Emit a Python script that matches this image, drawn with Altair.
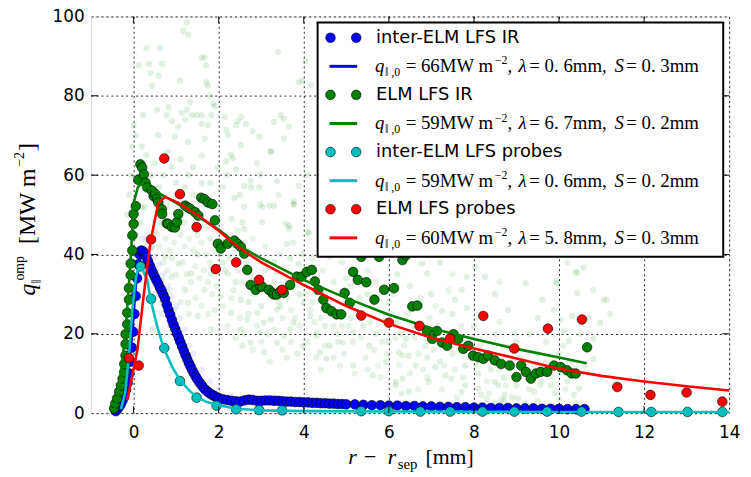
import altair as alt
import pandas as pd

# ---------------- data ----------------
x_ticks = [0, 2, 4, 6, 8, 10, 12, 14]
y_ticks = [0, 20, 40, 60, 80, 100]

series_names = ["inter-ELM LFS IR", "ELM LFS IR", "inter-ELM LFS probes", "ELM LFS probes"]
series_colors = ["#0000ff", "#008000", "#00bfbf", "#ff0000"]
fit_q0 = ["66", "59", "59", "60"]
fit_lambda = ["0.6", "6.7", "0.6", "5.8"]
fit_S = ["0.3", "0.2", "0.2", "0.3"]

inter_ir_points = [
    (-0.42, 0.5), (-0.38, 1.0), (-0.34, 1.6), (-0.30, 2.3), (-0.26, 3.2), (-0.22, 4.3), (-0.18, 5.8),
    (-0.14, 7.6), (-0.10, 10.0), (-0.07, 13.0), (-0.04, 16.5), (-0.01, 20.5), (0.02, 25.0), (0.05, 29.5),
    (0.08, 34.0), (0.11, 37.5), (0.14, 40.0), (0.18, 41.0), (0.22, 40.8), (0.26, 40.2), (0.30, 39.3),
    (0.34, 38.3), (0.38, 37.2), (0.42, 36.2), (0.46, 35.2), (0.50, 34.3), (0.54, 33.4), (0.58, 32.6),
    (0.62, 31.6), (0.66, 30.8), (0.70, 29.8), (0.74, 28.8), (0.78, 27.3), (0.82, 26.0), (0.86, 24.8),
    (0.90, 23.5), (0.94, 22.3), (0.98, 21.2), (1.02, 20.1), (1.06, 19.0), (1.10, 17.9), (1.14, 16.8),
    (1.18, 15.7), (1.22, 14.6), (1.26, 13.6), (1.30, 12.6), (1.34, 11.7), (1.38, 10.8), (1.42, 10.0),
    (1.46, 9.2), (1.50, 8.5), (1.55, 7.7), (1.60, 7.0), (1.65, 6.3), (1.70, 5.8), (1.75, 5.3), (1.80, 4.9),
    (1.85, 4.6), (1.90, 4.3), (1.95, 4.0), (2.00, 3.8), (2.10, 3.5), (2.20, 3.3), (2.30, 3.1), (2.40, 3.0),
    (2.50, 2.9), (2.60, 3.2), (2.70, 3.4), (2.80, 3.3), (2.90, 3.1), (3.00, 3.1), (3.10, 3.2), (3.20, 3.2),
    (3.30, 3.1), (3.40, 3.1), (3.50, 3.0), (3.60, 2.9), (3.70, 2.9), (3.80, 2.8), (3.90, 2.8), (4.00, 2.7),
    (4.10, 2.7), (4.20, 2.6), (4.30, 2.6), (4.40, 2.5), (4.50, 2.5), (4.60, 2.4), (4.70, 2.4), (4.80, 2.3),
    (4.90, 2.3), (5.00, 2.2), (5.20, 2.2), (5.40, 2.1), (5.60, 2.0), (5.80, 2.0), (6.00, 1.9), (6.20, 1.9),
    (6.40, 1.8), (6.60, 1.8), (6.80, 1.7), (7.00, 1.7), (7.20, 1.6), (7.40, 1.6), (7.60, 1.5), (7.80, 1.5),
    (8.00, 1.4), (8.20, 1.4), (8.40, 1.3), (8.60, 1.3), (8.80, 1.3), (9.00, 1.2), (9.20, 1.2), (9.40, 1.2),
    (9.60, 1.1), (9.80, 1.1), (10.00, 1.1), (10.20, 1.0), (10.40, 1.0), (10.60, 1.0),
]
inter_ir_fit = [
    (-0.35, 1.0), (-0.20, 5.0), (-0.05, 18.0), (0.05, 32.0), (0.17, 41.0), (0.40, 36.5), (0.70, 29.5),
    (1.00, 21.0), (1.30, 12.5), (1.60, 6.8), (2.00, 3.5), (3.00, 2.5), (5.00, 2.1), (7.00, 1.6),
    (9.00, 1.2), (10.60, 1.0),
]
elm_ir_points = [
    (-0.46, 1.2), (-0.43, 2.4), (-0.39, 3.7), (-0.34, 5.4), (-0.30, 7.0), (-0.26, 8.7), (-0.22, 10.4),
    (-0.22, 12.4), (-0.19, 14.5), (-0.19, 17.4), (-0.19, 19.9), (-0.15, 22.4), (-0.15, 25.3), (-0.11, 28.6),
    (-0.11, 31.5), (-0.07, 34.8), (-0.07, 37.7), (-0.03, 41.0), (-0.03, 44.8), (0.00, 47.7), (0.00, 50.2),
    (0.05, 52.2), (0.11, 58.8), (0.16, 62.7), (0.20, 61.9), (0.24, 60.2), (0.28, 58.1), (0.32, 56.9),
    (0.43, 56.1), (0.47, 54.7), (0.51, 55.2), (0.55, 54.0), (0.58, 53.1), (0.66, 51.4), (0.67, 50.2),
    (0.78, 47.8), (0.81, 47.7), (0.90, 46.9), (0.97, 46.8), (1.02, 48.2), (1.05, 50.2), (1.21, 52.3),
    (1.28, 51.8), (1.33, 51.5), (1.44, 50.7), (1.52, 49.8), (1.59, 54.3), (1.67, 53.9), (1.75, 53.1),
    (1.85, 52.7), (1.91, 48.6), (1.98, 42.7), (2.05, 41.5), (2.21, 42.7), (2.37, 43.5), (2.44, 42.7),
    (2.52, 41.9), (2.60, 40.2), (2.67, 36.1), (2.75, 32.3), (2.87, 31.1), (2.98, 31.9), (3.02, 31.9),
    (3.18, 31.1), (3.26, 30.3), (3.30, 29.9), (3.37, 29.9), (3.45, 30.7), (3.53, 30.3), (3.68, 32.3),
    (3.84, 34.4), (3.95, 34.4), (4.07, 35.6), (4.19, 36.1), (4.26, 33.2), (4.34, 31.1), (4.46, 28.6),
    (4.53, 26.5), (4.65, 25.7), (4.77, 24.9), (4.88, 24.9), (4.96, 30.3), (5.08, 27.8), (5.16, 35.6),
    (5.27, 33.6), (5.35, 39.4), (5.47, 33.0), (5.66, 28.6), (5.77, 39.4), (5.89, 31.1), (6.12, 31.5),
    (6.32, 38.6), (6.40, 39.8), (6.55, 26.9), (6.67, 27.1), (6.90, 20.7), (7.02, 18.7), (7.13, 20.7),
    (7.25, 17.8), (7.37, 17.0), (7.52, 19.9), (7.63, 18.7), (7.75, 16.2), (7.87, 17.0), (7.98, 14.5),
    (8.10, 14.1), (8.22, 13.7), (8.33, 14.5), (8.49, 13.3), (8.64, 12.4), (8.84, 12.0), (9.00, 9.1),
    (9.11, 12.0), (9.22, 10.4), (9.34, 8.7), (9.46, 10.0), (9.57, 10.4), (9.72, 10.4), (9.88, 12.0),
    (10.04, 11.6), (10.19, 10.8), (10.30, 10.0), (10.39, 10.0), (10.66, 16.6),
]
elm_ir_fit = [
    (-0.47, 0.5), (-0.37, 3.7), (-0.19, 20.4), (-0.07, 38.6), (0.00, 53.0), (0.10, 57.0), (0.16, 57.7),
    (0.50, 56.0), (1.00, 53.0), (1.50, 49.6), (2.00, 46.3), (2.44, 42.5), (3.00, 39.0), (4.00, 33.6),
    (5.00, 29.0), (6.00, 24.8), (7.00, 21.4), (8.00, 18.7), (9.00, 16.2), (10.00, 14.0), (10.65, 12.6),
]
inter_probe_points = [
    (0.16, 37.0), (0.41, 28.8), (0.72, 16.4), (1.09, 8.1), (1.48, 3.9), (1.95, 1.9), (2.41, 1.0),
    (2.95, 0.8), (3.49, 0.7), (5.35, 0.5), (6.00, 0.5), (6.74, 0.4), (7.44, 0.4), (8.20, 0.4),
    (8.95, 0.4), (9.72, 0.4), (10.53, 0.4), (11.40, 0.3), (12.17, 0.3), (13.02, 0.3), (13.84, 0.3),
]
inter_probe_fit = [
    (-0.30, 1.0), (-0.20, 5.0), (-0.11, 14.5), (-0.03, 26.0), (0.05, 34.0), (0.12, 37.0), (0.16, 37.3),
    (0.32, 33.6), (0.40, 28.6), (0.55, 22.0), (0.70, 16.6), (0.90, 11.8), (1.09, 8.3), (1.30, 5.8),
    (1.48, 4.1), (1.70, 2.9), (1.95, 2.1), (2.40, 1.1), (3.00, 0.7), (4.00, 0.5), (6.00, 0.4),
    (8.00, 0.35), (10.00, 0.3), (12.00, 0.3), (14.00, 0.3),
]
elm_probe_points = [
    (-0.11, 13.9), (0.12, 12.0), (0.41, 43.8), (0.72, 64.2), (1.09, 55.2), (1.48, 46.9), (1.93, 36.3),
    (2.41, 38.0), (2.95, 33.6), (3.49, 31.1), (5.35, 24.6), (6.00, 22.8), (6.72, 22.0), (7.44, 18.8),
    (8.22, 24.5), (8.95, 16.3), (9.74, 21.3), (10.54, 23.6), (11.37, 6.6), (12.15, 4.6), (13.00, 5.2),
    (13.84, 2.9),
]
elm_probe_fit = [
    (-0.15, 3.3), (0.09, 16.0), (0.24, 30.0), (0.40, 43.5), (0.58, 53.0), (0.74, 54.5), (1.05, 53.0),
    (1.50, 50.0), (2.00, 46.0), (2.44, 42.0), (3.00, 38.0), (4.00, 32.3), (5.00, 27.0), (6.00, 22.5),
    (7.00, 19.0), (8.00, 16.3), (9.00, 13.8), (10.00, 11.2), (11.00, 9.4), (12.00, 8.0), (13.00, 6.8),
    (14.00, 5.7),
]
elm_ir_cloud = [
    (1.25, 98.5), (1.17, 96.3), (1.29, 95.4), (0.30, 92.0), (0.63, 92.0), (1.60, 89.6), (1.67, 89.6),
    (1.70, 87.7), (0.12, 87.7), (0.36, 88.1), (0.67, 88.1), (0.40, 85.7), (0.59, 85.1), (1.09, 83.8),
    (1.71, 83.4), (1.75, 82.6), (0.43, 82.5), (1.79, 80.1), (1.87, 78.0), (1.91, 77.4), (1.33, 78.4),
    (0.82, 77.2), (0.55, 76.5), (0.22, 75.1), (0.78, 75.1), (1.13, 75.7), (1.25, 76.5), (1.37, 75.1),
    (1.48, 75.1), (1.60, 75.1), (1.83, 75.1), (2.14, 74.7), (0.90, 73.6), (1.21, 74.0), (1.05, 72.2),
    (1.60, 73.0), (1.75, 72.6), (0.00, 72.6), (2.53, 74.7), (2.45, 73.6), (2.64, 72.9), (2.41, 72.6),
    (2.80, 71.1), (2.18, 71.4), (2.22, 70.1), (3.46, 75.1), (3.53, 74.2), (3.65, 72.2), (3.30, 73.4),
    (3.88, 83.4), (3.96, 83.8), (4.16, 82.7), (3.40, 91.1), (4.04, 88.8), (3.23, 66.0), (3.19, 52.3),
    (3.30, 52.3), (3.88, 57.3), (3.77, 52.7), (3.65, 47.3), (2.95, 56.9), (2.76, 56.9), (2.33, 64.3),
    (2.18, 63.5), (2.41, 61.4), (3.03, 51.9), (3.57, 47.8), (3.65, 46.5), (-0.04, 67.2), (0.19, 67.2),
    (0.58, 70.1), (0.97, 69.7), (1.28, 68.4), (1.67, 69.2), (2.29, 65.1), (2.52, 67.6), (2.95, 69.7),
    (3.22, 65.9), (3.53, 69.2), (4.07, 60.1), (2.98, 60.1), (3.37, 58.5), (1.98, 61.8), (2.37, 54.3),
    (2.75, 58.5), (3.76, 53.5), (0.30, 65.0), (0.50, 63.0), (0.80, 66.0), (1.10, 64.0), (1.40, 62.0),
    (1.60, 65.0), (0.70, 60.0), (1.00, 58.0), (1.30, 60.0), (1.80, 58.0), (2.10, 57.0), (2.50, 55.0),
    (0.90, 62.0), (1.20, 57.0), (0.40, 60.0), (2.00, 52.0), (2.30, 49.0), (2.60, 52.0), (1.60, 58.0),
    (0.20, 58.0), (0.60, 57.0), (2.60, 57.2), (3.02, 48.1), (2.56, 48.1), (2.60, 46.4), (3.76, 52.6),
    (4.11, 45.4), (3.60, 42.7), (3.88, 37.7), (2.91, 25.3), (3.22, 23.6), (3.45, 26.9), (2.98, 20.3),
    (3.53, 19.5), (3.99, 17.0), (4.38, 15.3), (4.53, 13.7), (4.30, 19.5), (3.76, 22.8), (4.92, 17.8),
    (5.16, 20.3), (5.54, 17.0), (5.93, 12.9), (6.32, 8.7), (6.24, 15.3), (6.16, 22.8), (2.67, 23.6),
    (2.56, 17.0), (2.52, 28.6), (3.37, 35.6), (3.68, 39.0), (4.61, 39.4), (4.77, 46.0), (4.84, 50.2),
    (2.98, 52.6), (6.78, 37.7), (6.90, 35.2), (7.25, 25.7), (7.56, 28.6), (7.71, 31.1), (7.83, 26.5),
    (8.26, 34.4), (9.22, 32.8), (9.92, 33.2), (9.88, 26.1), (6.32, 14.5), (6.63, 12.0), (6.94, 7.9),
    (7.33, 9.5), (7.71, 5.4), (8.10, 6.2), (8.49, 7.9), (8.72, 4.6), (9.03, 3.7), (9.42, 5.4),
    (9.81, 7.0), (6.16, 7.9), (6.40, 18.7), (6.86, 17.0), (6.47, 5.4), (10.43, 35.4), (10.58, 36.7),
    (11.12, 28.6), (10.31, 24.5), (10.70, 24.1), (10.97, 22.8), (10.81, 18.7), (10.12, 20.7),
    (10.23, 18.2), (10.81, 13.7), (10.47, 6.2), (10.35, 4.6), (10.04, 23.6), (9.96, 32.8), (4.11, 45.6),
    (3.99, 27.8), (4.30, 20.3), (4.61, 17.0), (5.16, 12.0), (5.62, 9.5), (6.16, 7.0), (6.47, 14.5),
    (7.09, 11.6), (7.47, 8.7), (7.79, 7.0), (8.18, 4.6), (8.57, 7.0), (7.83, 34.4), (8.02, 36.9),
    (9.61, 28.6), (10.43, 30.3), (11.05, 28.6), (10.39, 35.6), (8.95, 41.9), (0.27, 51.8), (0.50, 46.0),
    (0.43, 41.9), (0.74, 39.4), (1.05, 37.7), (1.36, 35.2), (0.89, 34.4), (0.66, 33.6), (1.67, 31.1),
    (1.28, 27.8), (1.51, 24.5), (1.82, 21.1), (2.05, 29.4), (2.29, 25.3), (2.52, 21.1), (2.75, 17.8),
    (3.06, 15.3), (3.37, 17.8), (3.68, 21.1), (3.06, 22.8), (3.37, 26.1), (1.20, 31.1), (1.82, 35.2),
    (2.21, 35.2), (4.15, 24.5), (2.83, 33.6), (3.37, 31.1), (0.66, 27.8), (0.43, 21.1), (0.89, 24.5),
    (1.50, 40.0), (1.80, 44.0), (2.10, 38.0), (2.40, 33.0), (2.70, 28.0), (3.00, 27.0), (3.30, 38.0),
    (3.60, 34.0), (3.90, 30.0), (4.20, 28.0), (4.50, 22.0), (4.80, 20.0), (5.10, 24.0), (5.40, 22.0),
    (5.70, 20.0), (6.00, 18.0), (6.30, 20.0), (6.60, 22.0), (6.90, 14.0), (7.20, 13.0), (7.50, 15.0),
    (7.80, 12.0), (8.10, 10.0), (8.40, 11.0), (8.70, 9.0), (9.00, 7.0), (9.30, 6.0), (9.60, 8.0),
    (9.90, 5.0), (10.20, 8.0), (10.50, 10.0), (5.00, 34.0), (5.50, 30.0), (6.00, 28.0), (6.50, 32.0),
    (7.00, 30.0), (7.50, 25.0), (8.00, 22.0), (8.50, 20.0), (9.00, 18.0), (9.50, 15.0), (10.00, 15.0),
    (4.60, 42.0), (5.20, 44.0), (5.80, 42.0), (6.20, 35.0), (7.20, 38.0), (8.50, 30.0), (9.50, 24.0),
    (8.80, 26.0), (8.40, 1.5), (8.50, 2.5), (8.60, 1.0), (8.70, 3.0), (8.80, 2.0), (9.00, 1.5),
    (9.20, 2.5), (9.40, 1.0), (8.30, 3.5), (8.90, 4.0), (0.05, 45.0), (0.10, 40.0), (0.15, 48.0),
    (0.20, 52.0), (-0.10, 55.0), (-0.05, 60.0), (0.10, 63.0), (0.05, 70.0), (-0.15, 50.0),
]
elm_ir_cloud_dense = [
    (0.55, 45), (0.60, 42), (0.65, 48), (0.75, 44), (0.85, 41), (0.95, 43), (0.70, 38), (0.80, 36),
    (0.90, 39), (1.00, 35), (0.60, 30), (0.75, 29), (0.85, 31), (0.95, 26), (1.10, 45), (1.20, 42),
    (1.30, 44), (1.40, 41), (1.50, 45), (1.60, 43), (1.70, 40), (1.80, 38), (1.90, 41), (1.15, 38),
    (1.25, 35), (1.35, 33), (1.45, 37), (1.55, 34), (1.65, 36), (1.75, 33), (1.85, 30), (1.95, 32),
    (1.10, 28), (1.30, 25), (1.45, 29), (1.60, 27), (1.75, 25), (1.90, 26), (1.20, 48), (1.45, 47),
    (1.70, 47), (1.95, 46), (2.05, 40), (2.15, 36), (2.25, 39), (2.35, 31), (2.45, 36), (2.55, 33),
    (2.65, 38), (2.75, 35), (2.85, 30), (2.95, 33), (2.10, 27), (2.30, 29), (2.50, 24), (2.70, 25),
    (2.90, 22), (2.20, 22), (2.40, 19), (2.60, 20), (2.80, 16), (3.00, 18), (2.15, 45), (2.45, 46),
    (2.80, 44), (2.60, 43), (3.10, 36), (3.20, 29), (3.30, 33), (3.40, 28), (3.50, 24), (3.60, 29),
    (3.70, 26), (3.80, 24), (3.90, 22), (3.15, 20), (3.30, 21), (3.50, 16), (3.70, 18), (3.85, 15),
    (3.10, 42), (3.45, 40), (3.75, 43), (3.95, 40), (3.20, 13), (3.60, 14), (4.05, 30), (4.15, 26),
    (4.25, 23), (4.40, 24), (4.50, 30), (4.60, 27), (4.70, 22), (4.80, 18), (4.90, 22), (4.10, 18),
    (4.30, 14), (4.50, 17), (4.70, 14), (4.85, 12), (4.20, 39), (4.45, 36), (4.70, 33), (4.90, 38),
    (4.40, 11), (4.95, 15), (5.05, 22), (5.15, 18), (5.25, 26), (5.35, 19), (5.45, 14), (5.55, 23),
    (5.65, 16), (5.75, 12), (5.85, 18), (5.95, 15), (5.10, 32), (5.30, 29), (5.50, 36), (5.70, 33),
    (5.90, 25), (5.20, 10), (5.50, 11), (5.80, 9), (6.05, 25), (6.15, 19), (6.25, 12), (6.35, 17),
    (6.50, 10), (6.60, 19), (6.70, 15), (6.80, 11), (6.90, 9), (6.10, 30), (6.45, 25), (6.75, 29),
    (6.95, 24), (6.30, 5), (6.70, 6), (7.05, 16), (7.15, 22), (7.30, 12), (7.40, 20), (7.55, 11),
    (7.65, 16), (7.75, 9), (7.90, 14), (7.10, 27), (7.40, 31), (7.70, 22), (7.95, 19), (7.25, 6),
    (7.60, 4), (8.05, 12), (8.15, 17), (8.30, 8), (8.45, 14), (8.60, 11), (8.75, 7), (8.90, 12),
    (8.20, 25), (8.60, 23), (8.95, 20), (8.35, 5), (8.65, 3.5), (9.10, 14), (9.25, 9), (9.40, 12),
    (9.55, 7), (9.70, 13), (9.85, 9), (10.00, 12), (10.15, 6), (10.30, 13), (10.45, 9), (10.60, 12),
    (9.30, 20), (9.70, 18), (10.10, 17), (10.50, 20), (9.50, 3), (10.00, 3.5), (10.40, 2.5),
    (0.80, 52), (1.00, 55), (1.40, 55), (2.20, 60), (2.90, 63), (3.40, 55), (4.40, 50), (5.00, 47),
    (5.50, 45), (6.30, 42), (7.50, 35), (8.60, 33), (10.20, 38), (10.80, 31), (11.20, 25),
]
inter_ir_cloud = [
    (0.20, 44.0), (0.30, 43.5), (0.40, 41.5), (0.50, 39.5), (0.60, 37.5), (0.70, 35.0), (0.80, 32.0),
    (0.90, 29.5), (1.00, 27.0), (1.10, 24.0), (1.20, 21.0), (0.25, 36.0), (0.35, 33.0), (0.10, 29.0),
    (0.50, 30.0), (0.05, 22.0), (-0.05, 15.0), (1.30, 17.0), (1.40, 15.0), (1.60, 11.0), (1.80, 8.0),
    (2.00, 6.0), (2.30, 4.5), (2.80, 4.2), (3.30, 4.0), (0.00, 8.0), (-0.20, 4.0), (0.45, 28.0),
    (0.65, 25.0), (0.85, 22.0), (1.05, 19.0),
]

# ---------------- layout helpers ----------------
W, H = 645, 401
PX0, PY0 = 92, 14
XMIN, XMAX, YMIN, YMAX = -1, 14, 0, 100


def dxp(px):
    return XMIN + (px - PX0) / W * (XMAX - XMIN)


def dyp(py):
    return YMAX - (py - PY0) / H * (YMAX - YMIN)


xs = alt.Scale(domain=[XMIN, XMAX], nice=False, zero=False)
ys = alt.Scale(domain=[YMIN, YMAX], nice=False, zero=False)
x_axis = alt.Axis(values=x_ticks, grid=True, gridDash=[2, 3], gridColor="black", gridOpacity=0.85,
                  gridWidth=1, ticks=False, domain=False, labelFont="DejaVu Sans", labelFontSize=17,
                  labelColor="black", labelPadding=12, labelFlush=False, labelOverlap=False, title=None)
y_axis = alt.Axis(values=y_ticks, grid=True, gridDash=[2, 3], gridColor="black", gridOpacity=0.85,
                  gridWidth=1, ticks=False, domain=False, labelFont="DejaVu Sans", labelFontSize=17,
                  labelColor="black", labelPadding=7, labelFlush=False, labelOverlap=False, title=None)


def X(f="x"):
    return alt.X(f"{f}:Q", scale=xs, axis=x_axis)


def Y(f="y"):
    return alt.Y(f"{f}:Q", scale=ys, axis=y_axis)


def df_pairs(pairs):
    return pd.DataFrame({"x": [p[0] for p in pairs], "y": [p[1] for p in pairs]})


def pts(pairs, color, size=95, opacity=1.0, stroke=True):
    kw = dict(color=color, size=size, opacity=opacity)
    if stroke:
        kw.update(stroke="black", strokeWidth=0.6)
    return alt.Chart(df_pairs(pairs)).mark_circle(**kw).encode(x=X(), y=Y())


def line(pairs, color):
    return alt.Chart(df_pairs(pairs)).mark_line(color=color, strokeWidth=2.6, clip=True).encode(
        x=X(), y=Y(), order="x:Q")


def hrule(x1, x2, y, color="black", width=1.0):
    d = pd.DataFrame({"x": [x1], "x2": [x2], "y": [y]})
    return alt.Chart(d).mark_rule(color=color, strokeWidth=width).encode(x=X(), x2="x2:Q", y=Y())


def vrule(x, y1, y2, color="black", width=1.0):
    d = pd.DataFrame({"x": [x], "y": [y1], "y2": [y2]})
    return alt.Chart(d).mark_rule(color=color, strokeWidth=width).encode(x=X(), y=Y(), y2="y2:Q")


layers = [
    pts(elm_ir_cloud, "#008000", size=40, opacity=0.12, stroke=False),
    pts(elm_ir_cloud_dense, "#008000", size=40, opacity=0.1, stroke=False),
    pts(inter_ir_cloud, "#0000ff", size=40, opacity=0.08, stroke=False),
    line(inter_ir_fit, series_colors[0]),
    pts(inter_ir_points, series_colors[0]),
    pts(elm_ir_points, series_colors[1]),
    line(elm_ir_fit, series_colors[1]),
    pts(inter_probe_points, series_colors[2]),
    line(inter_probe_fit, series_colors[2]),
    pts(elm_probe_points, series_colors[3]),
    line(elm_probe_fit, series_colors[3]),
]

# inward ticks on all four sides
tl = 7
for xv in x_ticks[:-1]:
    layers.append(vrule(xv, YMIN, dyp(PY0 + H - tl)))
    layers.append(vrule(xv, YMAX, dyp(PY0 + tl)))
for yv in y_ticks[1:-1]:
    layers.append(hrule(XMIN, dxp(PX0 + tl), yv))
    layers.append(hrule(XMAX, dxp(PX0 + W - tl), yv))

# ---------------- legend ----------------
bx1, bx2, by1, by2 = 321, 731, 20, 257
box = pd.DataFrame({"x": [dxp(bx1)], "x2": [dxp(bx2)], "y": [dyp(by1)], "y2": [dyp(by2)]})
layers.append(alt.Chart(box).mark_rect(fill="white", strokeWidth=0).encode(
    x=X(), x2="x2:Q", y=Y(), y2="y2:Q"))
layers.append(hrule(dxp(bx1 - 1), dxp(bx2 + 1), dyp(by1), width=2))
layers.append(hrule(dxp(bx1 - 1), dxp(bx2 + 1), dyp(by2), width=2))
layers.append(vrule(dxp(bx1), dyp(by1), dyp(by2), width=2))
layers.append(vrule(dxp(bx2), dyp(by1), dyp(by2), width=2))

row_y = [35.5 + i * 28.9 for i in range(8)]
for i, col in enumerate(series_colors):
    dots = [(dxp(334), dyp(row_y[2 * i])), (dxp(360), dyp(row_y[2 * i]))]
    layers.append(pts(dots, col))
    layers.append(hrule(dxp(333), dxp(361), dyp(row_y[2 * i + 1]), color=col, width=3))

lab = pd.DataFrame({"x": [dxp(380)] * 4, "y": [dyp(row_y[2 * i]) for i in range(4)], "t": series_names})
layers.append(alt.Chart(lab).mark_text(align="left", baseline="middle", font="DejaVu Sans",
                                       fontSize=18, color="black").encode(x=X(), y=Y(), text="t:N"))

SERIF = "Liberation Serif"
pieces = {"it": [], "rm": [], "sm": []}
for i in range(4):
    ry = row_y[2 * i + 1]
    lam_a, lam_b = fit_lambda[i].split(".")
    s_a, s_b = fit_S[i].split(".")
    pieces["it"] += [(379, ry + 6, "q"), (524, ry + 6, "λ"), (621, ry + 6, "S")]
    pieces["sm"] += [(389, ry + 10, "‖ ,0"), (500, ry - 2, "−2")]
    pieces["rm"] += [(410, ry + 6, "= " + fit_q0[i] + "MW m"), (513, ry + 6, ","),
                     (535, ry + 6, "= " + lam_a + ". " + lam_b + "mm,"),
                     (633, ry + 6, "= " + s_a + ". " + s_b + "mm")]


def text_layer(items, size, style="normal", angle=0):
    d = pd.DataFrame({"x": [dxp(a) for a, b, c in items], "y": [dyp(b) for a, b, c in items],
                      "t": [c for a, b, c in items]})
    return alt.Chart(d).mark_text(align="left", baseline="alphabetic", font=SERIF, fontSize=size,
                                  fontStyle=style, color="black", angle=angle).encode(
        x=X(), y=Y(), text="t:N")


layers.append(text_layer(pieces["it"], 19, "italic"))
layers.append(text_layer(pieces["rm"], 19))
layers.append(text_layer(pieces["sm"], 12))

# ---------------- axis titles ----------------
layers.append(text_layer([(352, 466, "r"), (392, 466, "r")], 22, "italic"))
layers.append(text_layer([(368, 466, "−"), (430, 466, "[mm]")], 22))
layers.append(text_layer([(402, 471, "sep")], 15))

layers.append(text_layer([(35, 296, "q")], 24, "italic", angle=270))
layers.append(text_layer([(35, 244, "[MW m"), (35, 150, "]")], 24, angle=270))
layers.append(text_layer([(41, 284, "‖")], 14, angle=270))
layers.append(text_layer([(24, 281, "omp"), (24, 166, "−2")], 14, angle=270))

chart = alt.layer(*layers).properties(
    width=W, height=H,
    autosize=alt.AutoSizeParams(type="none"),
    padding={"left": 84, "top": 6, "right": 14, "bottom": 62},
).configure_view(stroke="black", strokeWidth=2).configure(background="white")

chart.save("out.html", embed_options={"renderer": "svg", "actions": False})
